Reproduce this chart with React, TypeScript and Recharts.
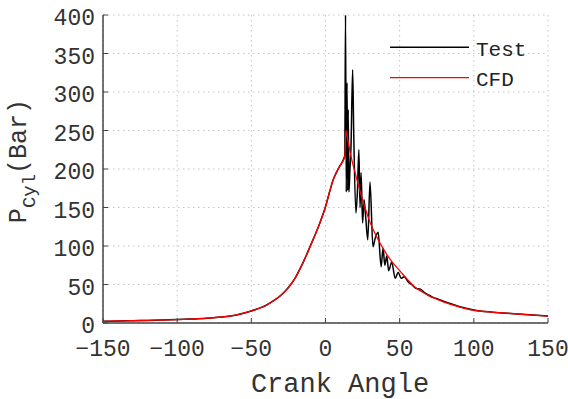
import React from "react";
import { LineChart, Line, XAxis, YAxis, CartesianGrid } from "recharts";

const cfdAngles = [-150, -140, -130, -120, -110, -100, -90, -80, -70, -60, -50, -45, -40, -35, -30, -25, -20, -15, -10, -5, 0, 3, 5, 8, 10, 12, 13, 13.8, 15, 17, 20, 25, 30, 35, 40, 45, 50, 55, 60, 65, 70, 75, 80, 90, 100, 110, 120, 135, 150];
const cfdValues = [2.2, 2.6, 3, 3.4, 3.9, 4.4, 5.2, 6.2, 7.8, 10.5, 15.6, 19, 23, 29, 36, 46, 60, 79, 101, 124, 151, 172, 185, 198, 205, 211, 216, 250, 238, 218, 195, 160, 131, 110, 93, 79, 68, 57, 47, 40.5, 35, 31, 27, 21, 16.5, 14.5, 13, 11, 9];

const testAngles = [-150, -140, -130, -120, -110, -100, -90, -80, -70, -60, -50, -45, -40, -35, -30, -25, -20, -15, -10, -5, 0, 3, 5, 8, 10, 12, 13, 13.5, 14, 14.5, 15, 15.3, 15.8, 16.5, 17.2, 18.3, 19, 20.5, 21.5, 22.5, 23.3, 24, 25, 26, 27, 28.5, 30, 32, 33.5, 35.5, 37.5, 38.8, 40, 41.3, 42.6, 44.6, 47, 49, 51, 53, 56, 58, 61, 64, 67, 70, 73, 76, 80, 84, 90, 100, 110, 120, 135, 150];
const testValues = [2.2, 2.6, 3, 3.4, 3.9, 4.4, 5.2, 6.2, 7.8, 10.5, 15.6, 19, 23, 29, 36, 46, 60, 79, 101, 124, 151, 172, 185, 198, 205, 212, 218, 400, 170, 312, 172, 277, 170, 200, 230, 329, 250, 143, 170, 225, 150, 195, 130, 160, 140, 108, 183, 99, 110, 118, 73, 97, 75, 87, 68, 79, 58, 66, 58, 60, 53, 50, 45, 44, 39, 36, 33, 31, 28, 25.5, 21.5, 17, 14.5, 13, 11, 9];

const xTicks = [-150, -100, -50, 0, 50, 100, 150];
const yTicks = [0, 50, 100, 150, 200, 250, 300, 350, 400];

const cfdData = cfdAngles.map((a, i) => ({ angle: a, value: cfdValues[i] }));
const testData = testAngles.map((a, i) => ({ angle: a, value: testValues[i] }));

const FONT = "'Liberation Mono', 'DejaVu Sans Mono', monospace";
const AXIS = "#444";

const XTick = (props: any) => {
  const { x, y, payload } = props;
  return (
    <g>
      <line x1={x} y1={y} x2={x} y2={y - 5} stroke={AXIS} strokeWidth={1} />
      <text x={x} y={y + 27} textAnchor="middle" dominantBaseline="central" fontFamily={FONT} fontSize={23} fill="#333">
        {payload.value < 0 ? "\u2212" + Math.abs(payload.value) : payload.value}
      </text>
    </g>
  );
};

const YTick = (props: any) => {
  const { x, y, payload } = props;
  return (
    <g>
      <line x1={x} y1={y} x2={x + 5} y2={y} stroke={AXIS} strokeWidth={1} />
      <text x={x - 8} y={y + 4} textAnchor="end" dominantBaseline="central" fontFamily={FONT} fontSize={23} fill="#333">
        {payload.value}
      </text>
    </g>
  );
};

const LegendBox = () => (
  <svg width={175} height={65} style={{ display: "block" }}>
    <line x1={5} y1={17.3} x2={84} y2={17.3} stroke="#000" strokeWidth={1.5} />
    <text x={91} y={26} fontFamily={FONT} fontSize={21} fill="#222">Test</text>
    <line x1={5} y1={47.7} x2={84} y2={47.7} stroke="#ff0000" strokeWidth={1.2} />
    <text x={91} y={56} fontFamily={FONT} fontSize={21} fill="#222">CFD</text>
  </svg>
);

export default function App() {
  return (
    <div style={{ position: "absolute", left: 0, top: 0, width: 568, height: 399, background: "#fff" }}>
      <LineChart width={568} height={399} margin={{ top: 15, right: 20, bottom: 16, left: 0 }}>
        <CartesianGrid stroke="#c4c4c4" strokeDasharray="1.5 3.5" horizontal vertical />
        <XAxis
          dataKey="angle"
          type="number"
          domain={[-150, 150]}
          ticks={xTicks}
          allowDataOverflow
          height={60}
          tickSize={0}
          tickMargin={0}
          tickLine={false}
          axisLine={{ stroke: AXIS, strokeWidth: 1.5 }}
          tick={<XTick />}
          interval={0}
          label={{
            content: () => (
              <text x={340} y={385} textAnchor="middle" dominantBaseline="central" fontFamily={FONT} fontSize={27} fill="#333">
                Crank Angle
              </text>
            ),
          }}
        />
        <YAxis
          type="number"
          domain={[0, 400]}
          ticks={yTicks}
          allowDataOverflow
          width={103}
          tickSize={0}
          tickMargin={0}
          tickLine={false}
          axisLine={{ stroke: AXIS, strokeWidth: 1.5 }}
          tick={<YTick />}
          interval={0}
          label={{
            content: () => (
              <text transform="translate(26,161) rotate(-90)" textAnchor="middle" fontFamily={FONT} fontSize={25} fill="#333">
                <tspan>P</tspan>
                <tspan dy={9} fontSize={19}>Cyl</tspan>
                <tspan dy={-9}>(Bar)</tspan>
              </text>
            ),
          }}
        />
        <Line data={testData} dataKey="value" type="monotone" stroke="#000" strokeWidth={1.5} dot={false} isAnimationActive={false} name="Test" />
        <Line data={cfdData} dataKey="value" type="monotone" stroke="#ff0000" strokeWidth={1.3} dot={false} isAnimationActive={false} name="CFD" />
      </LineChart>
      <div style={{ position: "absolute", left: 385, top: 30, width: 175, height: 65 }}>
        <LegendBox />
      </div>
    </div>
  );
}
